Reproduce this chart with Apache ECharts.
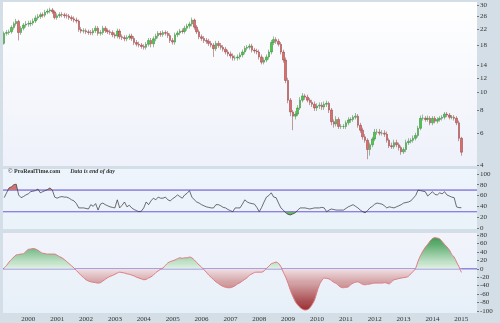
<!DOCTYPE html>
<html><head><meta charset="utf-8">
<script src="https://cdn.jsdelivr.net/npm/echarts@6/dist/echarts.min.js"></script>
<style>html,body{margin:0;padding:0;background:#d3dee6}#c{width:500px;height:323px}</style>
</head><body><div id="c"></div>
<script>
// ---- categories: monthly, Mar 1999 .. Sep 2015 (data ends Jan 2015)
const startYear = 1999, startMonth = 3, totalMonths = 197;
const months = [];
for (let k = 0; k < totalMonths; k++) {
  const m = startMonth - 1 + k;
  const y = startYear + Math.floor(m / 12);
  const mm = m % 12 + 1;
  months.push(y + '-' + (mm < 10 ? '0' : '') + mm);
}

const opens = [
18.5,21.0,21.2,21.4,22.6,23.7,24.4,21.2,22.4,23.3,
23.6,23.7,23.9,24.5,25.5,25.9,26.5,26.4,27.4,27.8,
28.2,27.5,25.6,26.2,26.6,26.5,26.2,26.1,25.6,25.2,
24.8,24.5,22.0,21.6,21.7,21.4,21.2,21.1,21.7,22.4,
21.0,21.2,22.4,21.7,21.4,21.2,20.6,20.3,21.6,20.1,
19.9,19.6,19.9,20.3,19.7,18.7,18.3,18.1,17.8,17.6,
18.3,19.2,18.4,19.6,20.3,21.0,20.7,21.2,21.0,20.4,
19.2,18.8,20.6,21.1,21.6,21.5,22.4,23.0,23.6,24.8,
22.7,21.4,20.1,19.7,19.2,19.0,18.5,18.1,17.3,18.5,
18.0,17.6,17.2,16.6,16.2,15.8,15.4,15.4,15.6,16.0,
16.6,17.4,17.6,17.9,17.0,16.8,16.6,15.6,14.6,15.0,
15.6,16.6,18.7,19.4,19.0,18.3,16.6,15.0,11.6,9.05,
7.8,7.4,7.6,8.2,9.05,9.55,9.4,9.05,8.8,8.6,
8.2,8.4,8.5,8.3,8.6,8.7,8.0,6.9,6.7,7.1,
6.5,6.5,6.5,6.8,7.05,7.1,7.3,7.4,6.6,6.2,
5.7,5.46,4.86,5.16,5.55,6.05,6.05,5.97,5.97,5.9,
5.46,5.1,5.04,5.3,5.16,4.98,4.72,4.86,5.3,5.4,
5.46,5.6,5.8,6.35,7.2,7.2,7.1,7.2,6.8,7.2,
6.95,7.1,7.2,7.3,7.6,7.5,7.3,7.3,7.2,6.8,
5.6];
const closes = [
21.0,21.2,21.4,22.6,23.7,24.4,21.2,22.4,23.3,23.6,
23.7,23.9,24.5,25.5,25.9,26.5,26.4,27.4,27.8,28.2,
27.5,25.6,26.2,26.6,26.5,26.2,26.1,25.6,25.2,24.8,
24.5,22.0,21.6,21.7,21.4,21.2,21.1,21.7,22.4,21.0,
21.2,22.4,21.7,21.4,21.2,20.6,20.3,21.6,20.1,19.9,
19.6,19.9,20.3,19.7,18.7,18.3,18.1,17.8,17.6,18.3,
19.2,18.4,19.6,20.3,21.0,20.7,21.2,21.0,20.4,19.2,
18.8,20.6,21.1,21.6,21.5,22.4,23.0,23.6,24.8,22.7,
21.4,20.1,19.7,19.2,19.0,18.5,18.1,17.3,18.5,18.0,
17.6,17.2,16.6,16.2,15.8,15.4,15.4,15.6,16.0,16.6,
17.4,17.6,17.9,17.0,16.8,16.6,15.6,14.6,15.0,15.6,
16.6,18.7,19.4,19.0,18.3,16.6,15.0,11.6,9.05,7.8,
7.4,7.6,8.2,9.05,9.55,9.4,9.05,8.8,8.6,8.2,
8.4,8.5,8.3,8.6,8.7,8.0,6.9,6.7,7.1,6.5,
6.5,6.5,6.8,7.05,7.1,7.3,7.4,6.6,6.2,5.7,
5.46,4.86,5.16,5.55,6.05,6.05,5.97,5.97,5.9,5.46,
5.1,5.04,5.3,5.16,4.98,4.72,4.86,5.3,5.4,5.46,
5.6,5.8,6.35,7.2,7.2,7.1,7.2,6.8,7.2,6.95,
7.1,7.2,7.3,7.6,7.5,7.3,7.3,7.2,6.8,5.6,
4.7022];
const highs = [
21.5,21.9,22.0,23.2,24.3,25.2,24.9,23.0,23.9,24.5,
24.6,24.7,25.3,26.3,26.8,27.3,27.3,28.2,28.6,29.0,
28.9,28.0,27.0,27.4,27.4,27.2,27.0,26.8,26.3,26.0,
25.6,25.0,22.7,22.4,22.3,22.0,21.9,22.4,23.1,23.0,
21.9,23.1,23.0,22.3,22.0,21.8,21.2,22.3,22.2,20.7,
20.5,20.5,20.9,20.9,20.3,19.3,18.9,18.6,18.3,18.8,
19.8,19.8,20.2,20.9,21.6,21.6,21.8,21.8,21.6,21.0,
19.8,21.2,21.7,22.2,22.3,23.1,23.7,24.3,25.6,25.3,
23.3,22.0,20.7,20.3,19.8,19.6,19.1,18.6,19.1,19.1,
18.6,18.1,17.7,17.1,16.7,16.3,15.9,16.1,16.5,17.1,
17.9,18.1,18.4,18.4,17.5,17.3,17.1,16.1,15.5,16.1,
17.1,19.3,20.2,20.0,19.6,18.8,17.1,15.5,12.0,9.3,
8.0,7.9,8.5,9.4,9.9,9.8,9.7,9.3,9.1,8.9,
8.7,8.8,8.8,8.9,9.0,8.9,8.2,7.1,7.4,7.3,
6.7,6.7,7.0,7.3,7.3,7.5,7.7,7.6,6.8,6.4,
5.9,5.6,5.3,5.7,6.3,6.3,6.3,6.2,6.2,6.1,
5.6,5.3,5.5,5.5,5.3,5.1,5.0,5.5,5.6,5.6,
5.8,6.0,6.55,7.45,7.55,7.4,7.45,7.4,7.4,7.4,
7.3,7.4,7.5,7.8,7.8,7.7,7.5,7.5,7.4,7.0,
5.7];
const lows = [
18.2,20.4,20.6,20.9,22.0,23.1,19.2,20.6,21.8,22.6,
22.8,22.9,23.2,23.9,24.8,25.2,25.6,25.7,26.7,27.0,
26.8,25.0,24.9,25.5,25.7,25.4,25.3,24.9,24.5,24.1,
23.8,21.4,21.0,21.0,20.8,20.6,20.5,20.5,21.1,20.4,
20.4,20.6,21.1,20.8,20.6,20.0,19.7,19.7,19.5,19.3,
19.0,19.0,19.3,19.1,18.1,17.8,17.6,17.3,17.1,17.1,
17.8,17.6,17.6,19.0,19.7,20.1,20.1,20.4,19.8,18.6,
18.2,18.2,20.0,20.5,20.9,20.9,21.7,22.3,22.9,22.0,
20.8,19.5,19.1,18.6,18.4,17.9,17.6,15.6,16.8,17.5,
17.1,16.7,16.1,15.7,15.3,14.9,14.9,14.9,15.1,15.5,
16.1,16.9,17.1,16.5,16.3,16.1,15.1,14.2,14.2,14.6,
15.1,16.1,18.1,18.4,17.8,16.1,14.5,11.2,8.7,7.4,
6.2,7.1,7.4,8.0,8.8,9.1,8.8,8.5,8.3,7.9,
7.9,8.1,8.0,8.0,8.3,7.7,6.6,6.4,6.5,6.3,
6.3,6.3,6.3,6.6,6.8,6.9,7.1,6.4,6.0,5.5,
5.3,4.3,4.5,5.0,5.4,5.85,5.8,5.8,5.7,5.3,
4.95,4.9,4.9,5.0,4.8,4.55,4.6,4.7,5.15,5.25,
5.3,5.45,5.65,6.2,7.0,6.9,6.9,6.6,6.6,6.75,
6.75,6.9,7.0,7.1,7.3,7.1,7.1,7.0,6.6,5.4,
4.5];
const rsi = [
56,65,74,76,80,81,61,56,58,61,
63,67,68,69,72,65,67,69,71,74,
70,57,55,57,58,57,57,55,52,50,
45,37,37,37,36,35,43,40,45,33,
44,46,43,41,39,38,37,52,37,42,
48,39,42,37,34,32,30,31,37,48,
43,50,55,52,57,55,55,57,52,50,
54,57,61,58,55,61,64,69,57,52,
48,46,43,41,39,38,37,37,43,43,
41,38,37,34,32,30,37,37,37,44,
52,48,46,45,44,38,30,38,48,57,
60,65,57,56,46,37,33,28,25,24,
26,28,33,37,37,37,36,35,36,37,
37,37,38,37,30,33,35,34,33,33,
33,33,36,39,41,43,40,37,33,30,
28,32,37,40,44,46,45,44,41,37,
39,38,37,39,41,43,46,47,48,50,
55,60,70,69,68,67,59,63,67,62,
61,65,63,67,61,59,57,56,39,37.5,
37.455];
const osc = [
2,8,16,22,28,33,34,35,36,41,
46,47,48,47,44,40,37,36,35,35,
35,35,32,29,26,22,17,12,7,2,
-4,-10,-16,-21,-26,-29,-31,-32,-33,-34,
-33,-29,-25,-21,-18,-16,-13,-10,-8,-9,
-10,-12,-13,-15,-17,-20,-22,-24,-26,-25,
-22,-19,-15,-9,-5,-1,2,8,14,17,
19,21,24,26,25,26,26,28,26,21,
15,9,4,-2,-8,-15,-20,-26,-31,-35,
-39,-42,-44,-45,-45,-43,-40,-36,-33,-29,
-25,-21,-15,-12,-9,-8,-8,-8,-5,1,
6,12,14,16,13,5,-8,-20,-35,-52,
-66,-78,-86,-92,-96,-98,-97,-93,-85,-74,
-55,-38,-28,-22,-23,-24,-28,-32,-35,-40,
-44,-45,-44,-43,-38,-34,-32,-31,-34,-37,
-38,-37,-36,-35,-34,-34,-34,-34,-33,-34,
-36,-31,-26,-25,-23,-22,-21,-20,-18,-12,
-6,1,18,31,42,51,58,66,72,74,
73,71,65,58,52,45,34,28,16,5,
-8.5274];

const priceTicks = [30, 26, 22, 18, 14, 12, 10, 8, 6, 4];
const rsiTicks = [100, 80, 60, 40, 20, 0];
const oscTicks = [80, 60, 40, 20, 0, -20, -40, -60, -80, -100];
const rsiLevels = [70, 30];
const oscLevel = 0;
const lastPriceText = '4.7022', lastRsiText = '37.455', lastOscText = '-8.5274';

const candles = opens.map((o, i) => [o, closes[i], lows[i], highs[i]]);
const FONT = 'Liberation Serif';
const lg = (a, b) => new echarts.graphic.LinearGradient(0, 0, 0, 1, [{offset: 0, color: a}, {offset: 1, color: b}]);
const axisLbl = (vals) => ({customValues: vals, fontSize: 7, fontFamily: FONT, color: '#333', margin: 3});
const axisTk = (vals) => ({show: true, customValues: vals, length: 2, inside: false, lineStyle: {color: '#777', width: 1}});
const LVL = '#8a7ede';
const CLEAR = 'rgba(255,255,255,0)';

// colour ramp for the oscillator fill (styling only)
function hex2rgb(h) { return [1, 3, 5].map(k => parseInt(h.slice(k, k + 2), 16)); }
function mix(a, b, t) {
  const A = hex2rgb(a), B = hex2rgb(b);
  return 'rgb(' + A.map((v, k) => Math.round(v + (B[k] - v) * t)).join(',') + ')';
}
const oscPieces = [];
for (let lo = -120; lo < 100; lo += 2.5) {
  const mid = lo + 1.25;
  const color = mid >= 0 ? mix('#e3f3e7', '#3b994f', Math.min(mid / 75, 1))
                         : mix('#f0dfe2', '#992c2f', Math.min(-mid / 98, 1));
  oscPieces.push({min: lo, max: lo + 2.5, color});
}

// level line drawn as the outline of a zero-height mark area
const levelArea = (v) => ({
  silent: true, label: {show: false},
  itemStyle: {color: CLEAR, borderColor: LVL, borderWidth: 1, borderType: 'solid'},
  data: [[{yAxis: v}, {yAxis: v}]]
});
// value box at the right axis (single invisible markLine)
const valueMark = (v, text, color, bg, border) => ({
  silent: true, symbol: 'none',
  lineStyle: {color: CLEAR, width: 0, opacity: 0},
  label: {show: true, position: 'end', distance: 2, formatter: text, fontSize: 6.5, fontFamily: FONT,
    color, backgroundColor: bg, borderColor: border || CLEAR, borderWidth: border ? 0.7 : 0, padding: [1, 1, 0, 1]},
  data: [{yAxis: v}]
});
const helper = (g, data, extra) => Object.assign({
  type: 'line', xAxisIndex: g, yAxisIndex: g, data, showSymbol: false, silent: true, z: 4,
  lineStyle: {opacity: 0, width: 0}
}, extra);

const chart = echarts.init(document.getElementById('c'), null, {renderer: 'canvas'});
chart.setOption({
  animation: false,
  backgroundColor: '#d3dee6',
  title: {
    text: '{a|© ProRealTime.com}  {b|Data is end of day}',
    left: 3, top: 157,
    textStyle: {rich: {
      a: {fontSize: 6, fontFamily: FONT, color: '#333'},
      b: {fontSize: 6, fontFamily: FONT, fontStyle: 'italic', color: '#333'}
    }}
  },
  grid: [
    {left: 3, right: 23, top: 2, height: 164, show: true, borderWidth: 0, backgroundColor: lg('#ffffff', '#eef1fa')},
    {left: 3, right: 23, top: 169, height: 60, show: true, borderWidth: 0, backgroundColor: lg('#eef4fc', '#eaf2fa')},
    {left: 3, right: 23, top: 233, height: 80, show: true, borderWidth: 0, backgroundColor: lg('#f2f3fb', '#e6f0f8')}
  ],
  xAxis: [0, 1, 2].map(g => ({
    type: 'category', gridIndex: g, data: months, boundaryGap: true,
    axisLine: {show: false, onZero: false}, axisTick: {show: false}, splitLine: {show: false},
    axisLabel: g === 2 ? {
      show: true, fontSize: 7, fontFamily: FONT, color: '#333', margin: 3,
      interval: (idx, val) => val.slice(5) === '01',
      formatter: v => v.slice(0, 4)
    } : {show: false}
  })),
  yAxis: [
    {type: 'log', logBase: 10, gridIndex: 0, position: 'right', min: 3.95, max: 31.15,
     axisLine: {show: false}, splitLine: {show: false}, axisTick: axisTk(priceTicks), axisLabel: axisLbl(priceTicks)},
    {type: 'value', gridIndex: 1, position: 'right', min: -2, max: 109,
     axisLine: {show: false}, splitLine: {show: false}, axisTick: axisTk(rsiTicks), axisLabel: axisLbl(rsiTicks)},
    {type: 'value', gridIndex: 2, position: 'right', min: -105, max: 85,
     axisLine: {show: false}, splitLine: {show: false}, axisTick: axisTk(oscTicks), axisLabel: axisLbl(oscTicks)}
  ],
  visualMap: [
    {type: 'piecewise', show: false, seriesIndex: 1, dimension: 1,
     pieces: [{min: -10, max: 70, color: CLEAR}, {min: 70, max: 120, color: '#cf7474'}]},
    {type: 'piecewise', show: false, seriesIndex: 2, dimension: 1,
     pieces: [{min: -10, max: 30, color: '#62b26c'}, {min: 30, max: 120, color: CLEAR}]},
    {type: 'piecewise', show: false, seriesIndex: 4, dimension: 1, pieces: oscPieces}
  ],
  series: [
    {
      type: 'candlestick', xAxisIndex: 0, yAxisIndex: 0, data: candles, barWidth: 2,
      itemStyle: {color: '#3fd03f', color0: '#e26a6a', borderColor: '#3a7a3a', borderColor0: '#8a3a3a', borderWidth: 0.5},
      markLine: valueMark(closes[closes.length - 1], lastPriceText, '#333', '#f4e24a', null)
    },
    {type: 'line', xAxisIndex: 1, yAxisIndex: 1, data: rsi, showSymbol: false, silent: true, z: 1,
     lineStyle: {width: 0, opacity: 0}, areaStyle: {origin: rsiLevels[0], opacity: 1}},
    {type: 'line', xAxisIndex: 1, yAxisIndex: 1, data: rsi, showSymbol: false, silent: true, z: 1,
     lineStyle: {width: 0, opacity: 0}, areaStyle: {origin: rsiLevels[1], opacity: 1}},
    {type: 'line', xAxisIndex: 1, yAxisIndex: 1, data: rsi, showSymbol: false, silent: true, z: 3,
     lineStyle: {color: '#333', width: 0.7}},
    {type: 'line', xAxisIndex: 2, yAxisIndex: 2, data: osc, showSymbol: false, silent: true, smooth: 0.3, z: 2,
     lineStyle: {color: '#e07c84', width: 1}, areaStyle: {opacity: 1}},
    helper(1, rsi, {markArea: levelArea(rsiLevels[0])}),
    helper(1, rsi, {markArea: levelArea(rsiLevels[1])}),
    helper(1, rsi, {markLine: valueMark(rsi[rsi.length - 1], lastRsiText, '#333', '#ffffff', '#999')}),
    helper(2, osc, {markArea: levelArea(oscLevel)}),
    helper(2, osc, {markLine: valueMark(osc[osc.length - 1], lastOscText, '#d04848', '#ffffff', '#e07c84')})
  ]
});
</script></body></html>
